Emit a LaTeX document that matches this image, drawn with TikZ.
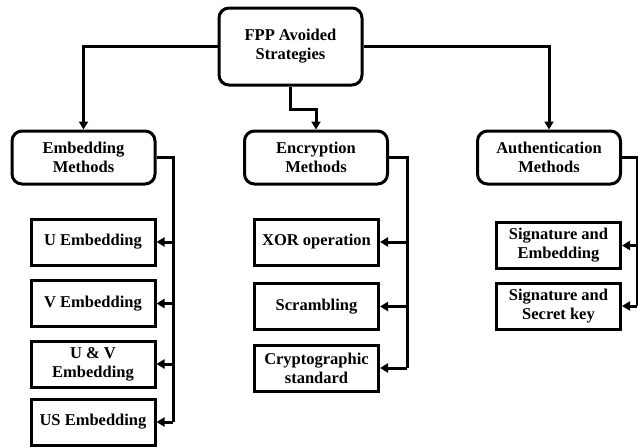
\documentclass[tikz,border=0pt]{standalone}
\usepackage{fontspec}
\setmainfont{Liberation Serif}
\usetikzlibrary{arrows.meta}

\begin{document}
\begin{tikzpicture}[x=1pt, y=-1pt, line width=3pt, >={Triangle[length=8pt,width=9pt]},
  font=\bfseries\fontsize{16.5}{19}\selectfont,
  mainbox/.style={draw, rounded corners=10pt, align=center, inner sep=0pt,
    minimum width=143pt, minimum height=53pt},
  leafbox/.style={draw, align=center, inner sep=0pt,
    minimum width=124pt, minimum height=46pt}]
\useasboundingbox (0,0) rectangle (638,447);

\node[mainbox, minimum height=77pt] (root) at (290.5,46.5) {FPP Avoided\\Strategies};
\node[mainbox] (emb) at (83.5,157.5) {Embedding\\Methods};
\node[mainbox] (enc) at (316,157.5) {Encryption\\Methods};
\node[mainbox] (auth) at (549,157.5) {Authentication\\Methods};

\node[leafbox] (ue) at (93,242) {U Embedding};
\node[leafbox] (ve) at (93,303.5) {V Embedding};
\node[leafbox] (uve) at (93,364) {U \& V\\Embedding};
\node[leafbox] (use) at (93,422) {US Embedding};

\node[leafbox] (xor) at (316.5,242) {XOR operation};
\node[leafbox] (scr) at (316.5,306.5) {Scrambling};
\node[leafbox] (cry) at (316.5,368) {Cryptographic\\standard};

\node[leafbox] (sigemb) at (558.5,245.5) {Signature and\\Embedding};
\node[leafbox] (sigkey) at (558.5,306) {Signature and\\Secret key};

\draw[->] (root.west) -| (emb.north);
\draw[->] (root.east) -| (auth.north);
\draw[->] (root.south) -- ++(0,23) -| (enc.north);

\coordinate (embx) at (173,0);
\coordinate (encx) at (407,0);
\coordinate (authx) at (637,0);

\draw (emb.east) -| (embx |- use.east);
\foreach \n in {ue,ve,uve,use}
  \draw[->] (embx |- \n.east) -- (\n.east);

\draw (enc.east) -| (encx |- cry.east);
\foreach \n in {xor,scr,cry}
  \draw[->] (encx |- \n.east) -- (\n.east);

\draw (auth.east) -| (authx |- sigkey.east);
\foreach \n in {sigemb,sigkey}
  \draw[->] (authx |- \n.east) -- (\n.east);
\end{tikzpicture}
\end{document}
